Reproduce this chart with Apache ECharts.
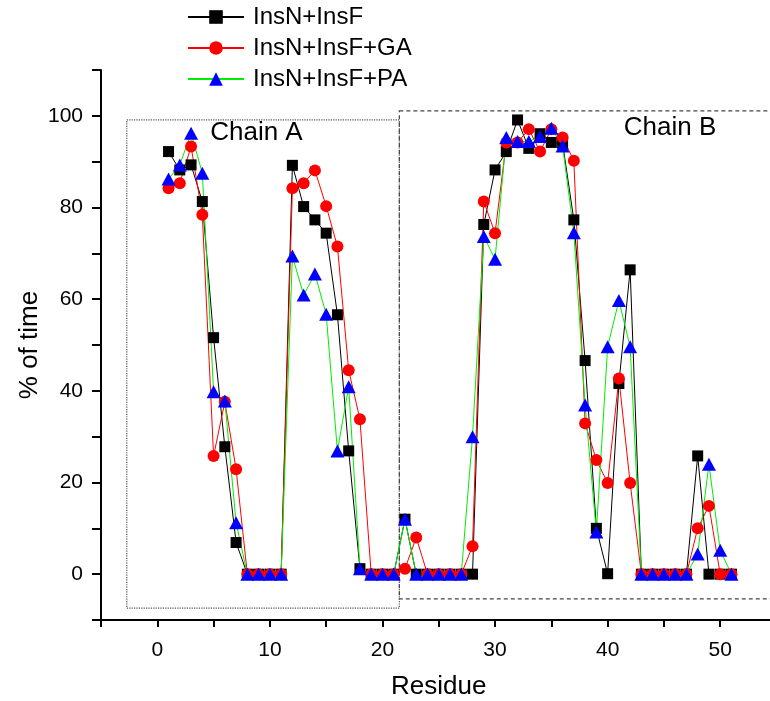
<!DOCTYPE html>
<html><head><meta charset="utf-8">
<script src="https://cdn.jsdelivr.net/npm/echarts@6/dist/echarts.min.js"></script>
<style>html,body{margin:0;padding:0;background:#fff}#c{width:770px;height:701px}</style>
</head><body><div id="c"></div><script>
const residues = [1,2,3,4,5,6,7,8,9,10,11,12,13,14,15,16,17,18,19,20,21,22,23,24,25,26,27,28,29,30,31,32,33,34,35,36,37,38,39,40,41,42,43,44,45,46,47,48,49,50,51];
const insNF   = [92.2,88.2,89.3,81.3,51.6,27.8,6.9,0,0,0,0,89.2,80.2,77.3,74.4,56.6,26.9,1.2,0,0,0,12,0,0,0,0,0,0,76.3,88.2,92.2,99.1,92.9,96.1,94.2,94,77.3,46.6,10,0.1,41.6,66.4,0,0,0,0,0,25.8,0,0,0];
const insNFGA = [84.2,85.3,93.3,78.4,25.8,37.6,22.9,0,0,0,0,84.2,85.3,88.1,80.3,71.5,44.5,33.8,0,0,0,1.2,8.0,0,0,0,0,6.1,81.3,74.4,94.2,94.2,97.1,92.2,97.1,95.3,90.2,32.9,24.9,19.9,42.7,19.9,0,0,0,0,0,10,14.9,0,0];
const insNFPA = [86.2,89.3,96.2,87.5,39.8,37.8,11.2,0,0,0,0,69.4,60.9,65.5,56.7,26.9,40.9,1.2,0,0,0,12,0,0,0,0,0,30,73.7,68.7,95.3,94.4,94.4,95.5,97.3,93.4,74.5,36.9,9.2,49.6,59.7,49.6,0,0,0,0,0,4.4,24,5.2,0];
const seriesNames = ['InsN+InsF','InsN+InsF+GA','InsN+InsF+PA'];
const xTickLabels = [0,10,20,30,40,50];
const yTickLabels = [0,20,40,60,80,100];
const chainNames = ['Chain A','Chain B'];
const chainX = [[-2.71,21.5],[21.5,55]];
const chainY = [[-7.4,99.1],[-5.4,101.1]];

const FONT = 'Liberation Sans, Arial, sans-serif';
const pair = vals => residues.map((r,i)=>[r, vals[i]]);

const chart = echarts.init(document.getElementById('c'));
chart.setOption({
  backgroundColor:'#fff',
  animation:false,
  textStyle:{fontFamily:FONT},
  grid:{left:101, top:70, bottom:81, right:-6.5, containLabel:false, outerBoundsMode:'none'},
  legend:{
    orient:'vertical', left:187, top:5, padding:0, itemWidth:56, itemHeight:17, itemGap:7,
    textStyle:{fontSize:24, color:'#000', fontFamily:FONT, lineHeight:24, padding:[0,0,0,4]},
    data:seriesNames
  },
  xAxis:{
    type:'value', min:-5, max:55, interval:5,
    name:'Residue', nameLocation:'middle', nameGap:54, nameMoveOverlap:false,
    nameTextStyle:{fontSize:26, color:'#000', fontFamily:FONT},
    axisLine:{onZero:false, lineStyle:{color:'#000', width:2}},
    axisTick:{length:7, lineStyle:{color:'#000', width:2}},
    axisLabel:{fontSize:21, color:'#000', margin:20, fontFamily:FONT,
      formatter:v => xTickLabels.includes(v) ? String(v) : ''},
    splitLine:{show:false}
  },
  yAxis:{
    type:'value', min:-10, max:110, interval:10,
    name:'% of time', nameLocation:'middle', nameGap:58, nameMoveOverlap:false,
    nameTextStyle:{fontSize:26, color:'#000', fontFamily:FONT},
    axisLine:{show:true, onZero:false, lineStyle:{color:'#000', width:2}},
    axisTick:{show:true, length:9, lineStyle:{color:'#000', width:2}},
    axisLabel:{fontSize:21, color:'#000', margin:18, fontFamily:FONT,
      formatter:v => yTickLabels.includes(v) ? String(v) : ''},
    splitLine:{show:false}
  },
  series:[
    {
      name:seriesNames[0], type:'line', data:pair(insNF),
      symbol:'rect', symbolSize:11, showAllSymbol:true,
      lineStyle:{color:'#000', width:1}, itemStyle:{color:'#000'},
      markArea:{
        silent:true,
        data:[
          [{coord:[chainX[0][0], chainY[0][1]], name:chainNames[0],
            itemStyle:{color:'rgba(0,0,0,0)', borderColor:'#555', borderWidth:1.2, borderType:'dotted'},
            label:{show:true, position:[84,0], fontSize:26, color:'#000', fontFamily:FONT}},
           {coord:[chainX[0][1], chainY[0][0]]}],
          [{coord:[chainX[1][0], chainY[1][1]], name:chainNames[1],
            itemStyle:{color:'rgba(0,0,0,0)', borderColor:'#444', borderWidth:1.2, borderType:[4,3]},
            label:{show:true, position:[225,5], fontSize:26, color:'#000', fontFamily:FONT}},
           {coord:[chainX[1][1], chainY[1][0]]}]
        ]
      }
    },
    {
      name:seriesNames[1], type:'line', data:pair(insNFGA),
      symbol:'circle', symbolSize:12, showAllSymbol:true,
      lineStyle:{color:'#ff0000', width:1}, itemStyle:{color:'#ff0000'}
    },
    {
      name:seriesNames[2], type:'line', data:pair(insNFPA),
      symbol:'triangle', symbolSize:[14,13], showAllSymbol:true,
      lineStyle:{color:'#00ee00', width:1}, itemStyle:{color:'#0000ff'}
    }
  ]
});
</script></body></html>
